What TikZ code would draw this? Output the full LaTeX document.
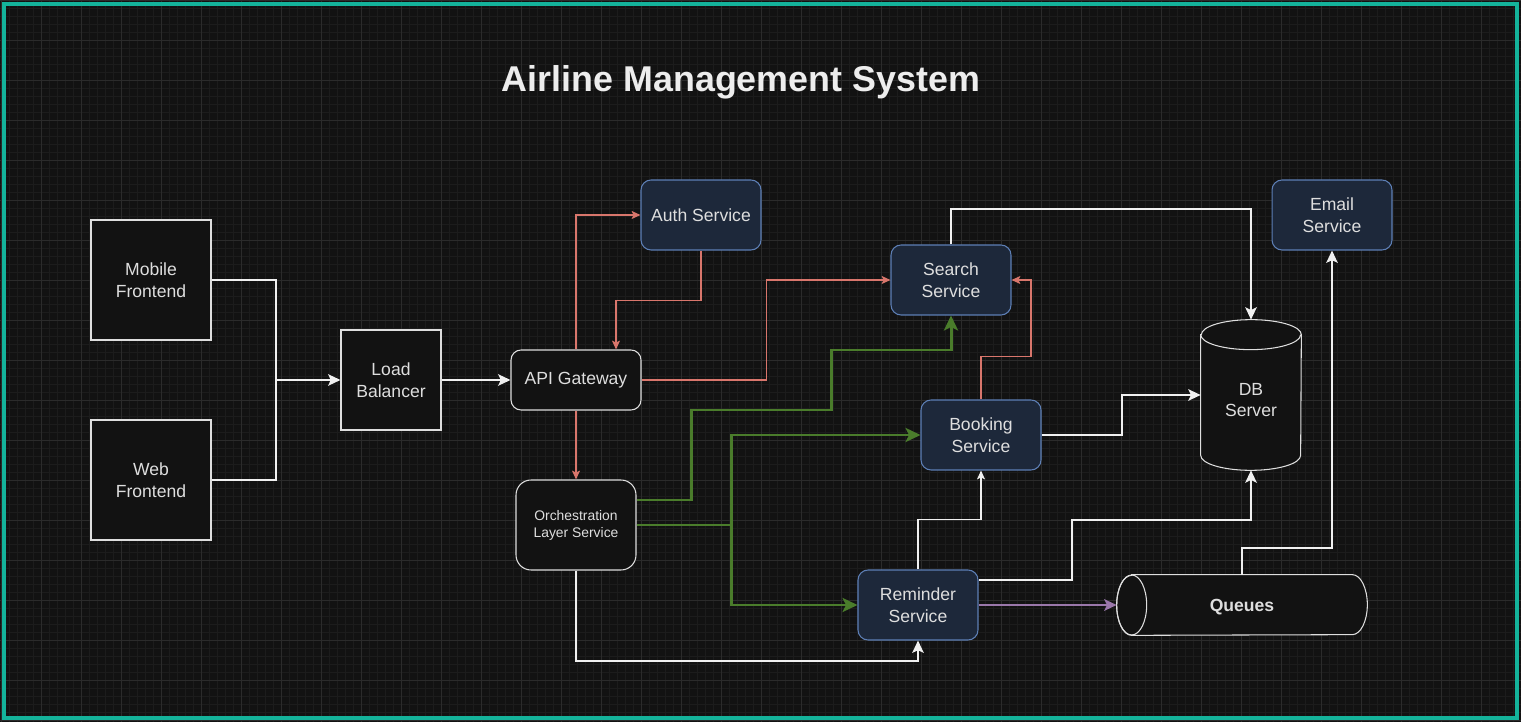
\documentclass[tikz,border=0pt]{standalone}
\usepackage{fontspec}
\setmainfont{Liberation Sans}
\usetikzlibrary{arrows.meta}
\definecolor{bgc}{HTML}{121212}
\definecolor{gridminor}{HTML}{1C1C1C}
\definecolor{gridmajor}{HTML}{2B2B2B}
\definecolor{framec}{HTML}{14B39B}
\definecolor{svcfill}{HTML}{1D283A}
\definecolor{svcline}{HTML}{5D7FB5}
\definecolor{txt}{HTML}{DEDEDE}
\definecolor{redln}{HTML}{D9766C}
\definecolor{greenln}{HTML}{4A7C2B}
\definecolor{purpleln}{HTML}{9A77AA}
\tikzset{
  lbl/.style={text=txt,font=\fontsize{10}{12.3}\selectfont,align=center,inner sep=0pt},
  plainbox/.style={lbl,draw=txt,fill=bgc,line width=0.6pt},
  svcbox/.style={lbl,draw=svcline,fill=svcfill,rounded corners=0.2cm,line width=0.6pt,
    minimum width=2.4cm,minimum height=1.4cm},
  wire/.style={draw=white!94!black,line width=1.15pt},
  wirearr/.style={wire,-{Stealth[length=7pt,width=6.5pt,inset=1.5pt]}},
  thinarr/.style={draw=white!94!black,line width=0.6pt,-{Stealth[length=5pt,width=4.5pt,inset=1pt]}},
  redarr/.style={draw=redln,line width=0.6pt,-{Stealth[length=5pt,width=4.5pt,inset=1pt]}},
  greenarr/.style={draw=greenln,line width=1.7pt,-{Stealth[length=8.5pt,width=8pt,inset=2pt]}},
  purplearr/.style={draw=purpleln,line width=1.4pt,-{Stealth[length=7pt,width=6.5pt,inset=1.5pt]}}
}
\begin{document}
\begin{tikzpicture}[x=0.02cm,y=-0.02cm]
  \useasboundingbox (0,0) rectangle (1521,722);
  \fill[bgc] (0,0) rectangle (1521,722);
  \foreach \gx in {1,9,...,1521} \draw[gridminor,line width=0.4pt] (\gx,0) -- (\gx,722);
  \foreach \gy in {0,8,...,722} \draw[gridminor,line width=0.4pt] (0,\gy) -- (1521,\gy);
  \foreach \gx in {1,41,...,1521} \draw[gridmajor,line width=0.5pt] (\gx,0) -- (\gx,722);
  \foreach \gy in {0,40,...,722} \draw[gridmajor,line width=0.5pt] (0,\gy) -- (1521,\gy);
  \draw[framec,line width=0.08cm] (4,4) rectangle (1517,718);

  \node[text=white!93!black,font=\fontsize{20.4}{24}\selectfont\bfseries] (title) at (741,82) {Airline Management System};

  \node[plainbox,minimum width=2.4cm,minimum height=2.4cm] (mob) at (151,280) {Mobile\\Frontend};
  \node[plainbox,minimum width=2.4cm,minimum height=2.4cm] (web) at (151,480) {Web\\Frontend};
  \node[plainbox,minimum width=2cm,minimum height=2cm] (lb) at (391,380) {Load\\Balancer};
  \node[plainbox,rounded corners=0.2cm,minimum width=2.6cm,minimum height=1.2cm] (api) at (576,380) {API Gateway};
  \node[plainbox,rounded corners=0.3cm,minimum width=2.4cm,minimum height=1.8cm,
    font=\fontsize{7.9}{9.6}\selectfont] (orch) at (576,525) {Orchestration\\Layer Service};
  \node[svcbox] (auth) at (701,215) {Auth Service};
  \node[svcbox] (search) at (951,280) {Search\\Service};
  \node[svcbox] (book) at (981,435) {Booking\\Service};
  \node[svcbox] (rem) at (918,605) {Reminder\\Service};
  \node[svcbox] (email) at (1332,215) {Email\\Service};

  \node[minimum width=2cm,minimum height=3cm,inner sep=0pt] (db) at (1251,395) {};
  \filldraw[fill=bgc,draw=txt,line width=0.6pt] ([yshift=-0.3cm]db.north west) -- ([yshift=0.3cm]db.south west)
    arc (180:360:1cm and 0.3cm) -- ([yshift=-0.3cm]db.north east) arc (0:180:1cm and 0.3cm) -- cycle;
  \draw[txt,line width=0.6pt] ([yshift=-0.3cm]db.north west) arc (180:360:1cm and 0.3cm);
  \node[lbl] (dbtext) at ([yshift=-0.1cm]db.center) {DB\\Server};

  \node[minimum width=5cm,minimum height=1.2cm,inner sep=0pt] (queue) at (1242,605) {};
  \filldraw[fill=bgc,draw=txt,line width=0.6pt] ([xshift=0.3cm]queue.north west) -- ([xshift=-0.3cm]queue.north east)
    arc (90:-90:0.3cm and 0.6cm) -- ([xshift=0.3cm]queue.south west) arc (270:90:0.3cm and 0.6cm) -- cycle;
  \draw[txt,line width=0.6pt] ([xshift=0.3cm]queue.west) ellipse (0.3cm and 0.6cm);
  \node[lbl,font=\fontsize{10}{12.3}\selectfont\bfseries] (qtext) at ([yshift=-0.04cm]queue.center) {Queues};

  \coordinate (join) at (276,380);
  \draw[wire] (mob.east) -| (join);
  \draw[wire] (web.east) -| (join);
  \draw[wirearr] (join) -- (lb.west);
  \draw[wirearr] (lb.east) -- (api.west);

  \draw[redarr] (api.north) |- (auth.west);
  \draw[redarr] (auth.south) -- ++(0,50) -| ([xshift=0.8cm]api.north);
  \draw[redarr] (api.east) -- ++(125,0) |- (search.west);
  \draw[redarr] (api.south) -- (orch.north);
  \draw[redarr] (book.north) -- ++(0,-43) -- ++(50,0) |- (search.east);

  \draw[wirearr] (search.north) -- ++(0,-35) -| (db.north);
  \draw[greenarr] ([yshift=0.5cm]orch.east) -- ++(55,0) -- ++(0,-90) -- ++(140,0) -- ++(0,-60) -| (search.south);
  \draw[greenln,line width=1.7pt] (orch.east) -- ++(95,0) coordinate (split);
  \draw[greenarr] (split) |- (book.west);
  \draw[greenarr] (split) |- (rem.west);
  \draw[wirearr] (orch.south) -- ++(0,90) -| (rem.south);
  \draw[thinarr] (rem.north) -- ++(0,-50) -| (book.south);
  \draw[wirearr] (book.east) -- ++(80,0) |- (db.west);
  \draw[wirearr] ([yshift=0.5cm]rem.east) -- ++(93,0) -- ++(0,-60) -| (db.south);
  \draw[purplearr] (rem.east) -- (queue.west);
  \draw[wirearr] (queue.north) -- ++(0,-27) -| (email.south);
\end{tikzpicture}
\end{document}
